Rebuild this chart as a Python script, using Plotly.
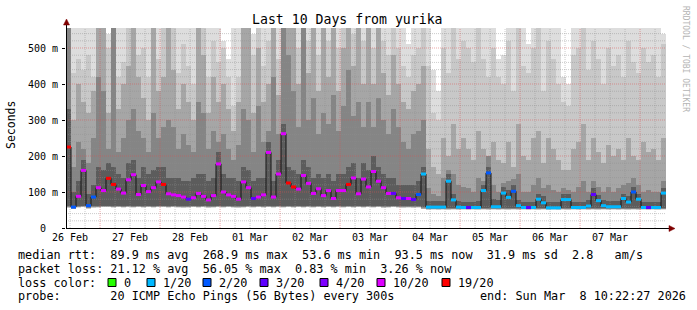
import plotly.graph_objects as go
import pandas as pd

# ---------------- data ----------------
start_time = "2026-02-26 10:22:27"
end_time = "2026-03-08 10:22:27"
step_hours = 2

day_labels = ["26 Feb", "27 Feb", "28 Feb", "01 Mar", "02 Mar", "03 Mar",
              "04 Mar", "05 Mar", "06 Mar", "07 Mar"]
day_dates = ["2026-02-26", "2026-02-27", "2026-02-28", "2026-03-01", "2026-03-02",
             "2026-03-03", "2026-03-04", "2026-03-05", "2026-03-06", "2026-03-07"]

y_tick_vals = [0, 100, 200, 300, 400, 500]
y_tick_text = ["0\u00a0\u00a0", "100 m", "200 m", "300 m", "400 m", "500 m"]

# median rtt per 2h column (ms)
median_ms = [
    225, 58, 88, 160, 62, 86, 112, 104, 138, 121,
    108, 97, 134, 148, 93, 118, 101, 112, 128, 121,
    95, 92, 90, 86, 80, 84, 96, 88, 78, 90,
    178, 100, 92, 88, 80, 128, 112, 82, 86, 92,
    210, 86, 150, 262, 125, 114, 108, 146, 124, 96,
    109, 90, 104, 82, 104, 104, 121, 139, 95, 136,
    114, 157, 130, 112, 96, 96, 84, 82, 82, 79,
    93, 150, 58, 58, 58, 58, 130, 78, 58, 57,
    57, 57, 57, 104, 153, 59, 59, 97, 85, 102,
    62, 57, 57, 57, 80, 70, 56, 56, 56, 79,
    79, 57, 57, 57, 61, 93, 76, 62, 59, 59,
    59, 82, 72, 100, 80, 57, 57, 57, 57, 97,
]
# loss class per column: 0:0, 1:1/20, 2:2/20, 3:3/20, 4:4/20, 5:10/20, 6:19/20
loss_class = [
    6, 2, 5, 5, 2, 2, 5, 5, 6, 6,
    5, 5, 5, 5, 5, 5, 5, 5, 5, 6,
    5, 5, 5, 5, 3, 5, 5, 5, 5, 5,
    5, 5, 5, 5, 5, 5, 5, 3, 5, 5,
    5, 5, 5, 5, 6, 6, 5, 5, 5, 5,
    5, 5, 5, 5, 5, 5, 6, 5, 5, 5,
    5, 5, 5, 5, 5, 3, 5, 3, 5, 3,
    2, 1, 1, 1, 1, 1, 1, 1, 1, 1,
    3, 1, 1, 1, 2, 1, 1, 1, 1, 2,
    1, 1, 3, 1, 1, 1, 1, 1, 1, 1,
    1, 1, 1, 1, 1, 3, 1, 1, 1, 1,
    1, 1, 1, 2, 1, 1, 3, 1, 1, 1,
]
# lowest ping per column (ms)
smoke_min = [
    55, 52, 56, 57, 53, 55, 56, 57, 57, 56,
    57, 56, 57, 56, 57, 56, 57, 56, 57, 57,
    56, 57, 56, 55, 56, 57, 56, 57, 55, 56,
    57, 56, 57, 56, 55, 56, 57, 56, 57, 56,
    57, 56, 57, 56, 57, 56, 57, 56, 57, 56,
    57, 56, 57, 56, 57, 56, 57, 56, 57, 56,
    57, 56, 57, 55, 56, 57, 56, 55, 56, 55,
    56, 52, 50, 51, 50, 51, 50, 51, 50, 51,
    50, 51, 50, 51, 50, 51, 50, 51, 50, 51,
    50, 51, 50, 51, 50, 51, 50, 51, 50, 51,
    50, 51, 50, 51, 50, 51, 50, 51, 50, 51,
    50, 51, 50, 51, 50, 51, 50, 51, 50, 51,
]
# highest ping (outer smoke) per column (ms)
smoke_max = [
    560, 560, 560, 560, 560, 560, 560, 560, 540, 560,
    560, 560, 530, 560, 560, 560, 560, 560, 560, 560,
    560, 560, 560, 560, 560, 560, 500, 560, 560, 560,
    560, 520, 470, 560, 560, 560, 560, 540, 560, 560,
    560, 560, 560, 560, 560, 560, 560, 560, 560, 560,
    560, 560, 560, 560, 560, 560, 560, 560, 560, 560,
    560, 560, 560, 560, 560, 560, 560, 560, 510, 560,
    560, 560, 560, 440, 380, 560, 560, 560, 560, 560,
    560, 560, 560, 560, 560, 560, 470, 480, 560, 560,
    560, 560, 510, 560, 560, 560, 560, 560, 560, 420,
    400, 560, 560, 560, 560, 560, 560, 560, 560, 560,
    560, 560, 560, 560, 560, 560, 560, 560, 560, 540,
]
smoke_q2 = [
    560, 430, 470, 440, 480, 420, 560, 560, 500, 560,
    420, 460, 560, 440, 480, 500, 420, 560, 470, 560,
    470, 560, 430, 510, 450, 400, 480, 560, 420, 520,
    460, 500, 420, 340, 420, 560, 490, 480, 560, 450,
    520, 560, 470, 560, 540, 560, 500, 560, 520, 560,
    480, 560, 520, 560, 500, 560, 560, 540, 560, 520,
    560, 500, 560, 520, 480, 560, 500, 450, 420, 480,
    500, 560, 450, 320, 300, 500, 430, 560, 470, 520,
    500, 460, 560, 470, 420, 500, 420, 400, 520, 380,
    560, 450, 430, 500, 560, 380, 520, 470, 400, 350,
    340, 480, 500, 560, 440, 520, 470, 400, 500, 450,
    480, 420, 520, 460, 430, 500, 460, 480, 420, 510,
]
smoke_q3 = [
    560, 300, 400, 350, 320, 380, 560, 560, 320, 560,
    330, 400, 450, 560, 420, 360, 300, 560, 380, 420,
    560, 440, 330, 400, 350, 300, 560, 480, 320, 420,
    350, 400, 330, 270, 350, 560, 560, 320, 500, 350,
    400, 560, 370, 560, 560, 560, 400, 560, 430, 560,
    380, 560, 420, 560, 380, 500, 560, 450, 560, 400,
    560, 400, 560, 430, 370, 480, 400, 350, 330, 380,
    400, 450, 220, 170, 150, 250, 200, 290, 220, 250,
    220, 190, 270, 220, 200, 240, 190, 180, 240, 170,
    290, 200, 190, 250, 270, 180, 250, 220, 190, 160,
    160, 220, 240, 290, 190, 250, 210, 180, 230, 200,
    220, 190, 250, 200, 190, 240, 210, 220, 190, 250,
]
smoke_q4 = [
    560, 170, 240, 220, 180, 250, 420, 380, 220, 560,
    210, 250, 300, 330, 270, 250, 210, 320, 250, 280,
    300, 280, 220, 260, 230, 210, 350, 320, 220, 270,
    240, 260, 220, 190, 230, 330, 300, 210, 340, 240,
    270, 420, 260, 560, 480, 380, 280, 560, 300, 360,
    260, 320, 290, 370, 270, 340, 440, 310, 350, 280,
    350, 280, 360, 300, 260, 330, 280, 240, 220, 260,
    270, 300, 110, 95, 90, 140, 160, 150, 120, 115,
    110, 100, 140, 130, 200, 120, 100, 125, 130, 135,
    150, 100, 100, 120, 140, 110, 120, 105, 100, 110,
    105, 100, 115, 130, 100, 130, 115, 100, 115, 100,
    110, 120, 125, 140, 120, 100, 105, 100, 100, 130,
]
smoke_core = [
    330, 100, 130, 190, 95, 120, 170, 160, 180, 170,
    150, 140, 180, 190, 140, 170, 150, 160, 170, 170,
    140, 140, 140, 130, 130, 140, 150, 150, 130, 140,
    210, 150, 140, 140, 130, 170, 160, 130, 140, 140,
    240, 130, 190, 290, 170, 160, 150, 190, 170, 140,
    150, 140, 150, 130, 150, 150, 170, 180, 140, 180,
    160, 200, 170, 150, 140, 140, 120, 120, 120, 120,
    130, 170, 75, 75, 75, 75, 150, 95, 75, 72,
    72, 72, 75, 120, 170, 80, 78, 115, 105, 120,
    78, 72, 72, 72, 95, 88, 72, 72, 72, 95,
    95, 72, 72, 72, 78, 110, 92, 78, 74, 74,
    74, 95, 88, 115, 95, 72, 72, 72, 72, 110,
]

loss_labels = ["0", "1/20", "2/20", "3/20", "4/20", "10/20", "19/20"]
loss_colors = ["#26ff00", "#00b8ff", "#0059ff", "#5e00ff", "#7e00ff", "#dd00ff", "#ff0000"]

stat_lines = [
    "median rtt:  89.9 ms avg  268.9 ms max  53.6 ms min  93.5 ms now  31.9 ms sd  2.8   am/s",
    "packet loss: 21.12 % avg  56.05 % max  0.83 % min  3.26 % now",
]
probe_text = "probe:       20 ICMP Echo Pings (56 Bytes) every 300s"
end_text = "end: Sun Mar  8 10:22:27 2026"
title_text = "Last 10 Days from yurika"

# ---------------- geometry helpers (pixel -> paper) ----------------
W, H = 697, 310
PL, PR, PT, PB = 66, 666, 28, 228
YMAX = 555.6


def px(x):
    return (x - PL) / (PR - PL)


def py(y):
    return (PB - y) / (PB - PT)


def nb(s):
    return s.replace(" ", "\u00a0")


t0 = pd.Timestamp(start_time)
t1 = pd.Timestamp(end_time)
step = pd.Timedelta(hours=step_hours)
n = len(median_ms)
col_start = [t0 + i * step for i in range(n)]
col_mid = [t0 + (i + 0.5) * step for i in range(n)]
width_ms = step_hours * 3600 * 1000

fig = go.Figure()

# smoke layers (lightest outermost first)
layers = [
    (smoke_max, 0, "#dddddd"),
    (smoke_q2, 1, "#c8c8c8"),
    (smoke_q3, 2, "#a6a6a6"),
    (smoke_q4, 3, "#858585"),
    (smoke_core, 5, "#5c5c5c"),
]
for tops, off, col in layers:
    base = [m + off for m in smoke_min]
    fig.add_trace(go.Bar(
        x=col_mid, y=[max(t - b, 0) for t, b in zip(tops, base)], base=base,
        width=[width_ms] * n, marker=dict(color=col, line=dict(width=0)),
        hoverinfo="skip"))

# grid (drawn over smoke, like rrdtool)
def hline_trace(vals, color):
    xs, ys = [], []
    for v in vals:
        xs += [t0, t1, None]
        ys += [v, v, None]
    return go.Scatter(x=xs, y=ys, mode="lines", hoverinfo="skip",
                      line=dict(color=color, width=1, dash="1px,1px"))


def vline_trace(times, color):
    xs, ys = [], []
    for t in times:
        xs += [t, t, None]
        ys += [0, YMAX, None]
    return go.Scatter(x=xs, y=ys, mode="lines", hoverinfo="skip",
                      line=dict(color=color, width=1, dash="1px,1px"))


grid_minor = "rgba(143,143,143,0.46)"
grid_major = "rgba(222,80,80,0.5)"
minor_y = [v for v in range(20, 560, 20) if v % 100 != 0]
major_y = [v for v in range(100, 560, 100)]
six_h = pd.date_range(t0.ceil("6h"), t1, freq="6h")
minor_x = [t for t in six_h if t.hour != 0]
major_x = [t for t in six_h if t.hour == 0]
fig.add_trace(hline_trace(minor_y, grid_minor))
fig.add_trace(vline_trace(minor_x, grid_minor))
fig.add_trace(hline_trace(major_y, grid_major))
fig.add_trace(vline_trace(major_x, grid_major))

# median line (dark step line)
fig.add_trace(go.Scatter(
    x=col_start + [t1], y=median_ms + [median_ms[-1]], mode="lines",
    line=dict(color="#141414", width=1, shape="hv"), hoverinfo="skip"))

# loss-coloured median segments
for ci, c in enumerate(loss_colors):
    xs, ys = [], []
    for i in range(n):
        if loss_class[i] == ci:
            xs += [col_start[i], col_start[i] + step, None]
            ys += [median_ms[i], median_ms[i], None]
    if xs:
        fig.add_trace(go.Scatter(x=xs, y=ys, mode="lines", hoverinfo="skip",
                                 line=dict(color=c, width=3)))

mono = "DejaVu Sans Mono"
annotations = []
shapes = []

# title
annotations.append(dict(text=title_text, x=px(347.5), y=py(19), xref="paper", yref="paper",
                        showarrow=False, xanchor="center", yanchor="middle",
                        font=dict(family=mono, size=13.2, color="black")))
# y title
annotations.append(dict(text="Seconds", x=px(11), y=py(125), xref="paper", yref="paper",
                        showarrow=False, xanchor="center", yanchor="middle", textangle=-90,
                        font=dict(family=mono, size=11.5, color="black")))
# rrdtool watermark
annotations.append(dict(text="RRDTOOL / TOBI OETIKER", x=px(686), y=py(59), xref="paper",
                        yref="paper", showarrow=False, xanchor="center", yanchor="middle",
                        textangle=90, font=dict(family=mono, size=8, color="#b4b4b4")))

# statistics lines
line_y = [254.5, 268.5, 282.5, 296]
for i, s in enumerate(stat_lines):
    annotations.append(dict(text=nb(s), x=px(16), y=py(line_y[i]), xref="paper", yref="paper",
                            showarrow=False, xanchor="left", yanchor="middle",
                            font=dict(family=mono, size=11.8, color="black")))
annotations.append(dict(text=nb("loss color:"), x=px(16), y=py(line_y[2]), xref="paper",
                        yref="paper", showarrow=False, xanchor="left", yanchor="middle",
                        font=dict(family=mono, size=11.8, color="black")))
box_left = [108, 147, 203, 260, 320, 377, 442]
for i, (lab, c) in enumerate(zip(loss_labels, loss_colors)):
    bx = box_left[i]
    shapes.append(dict(type="rect", xref="paper", yref="paper",
                       x0=px(bx), x1=px(bx + 8), y0=py(line_y[2] + 4), y1=py(line_y[2] - 4),
                       fillcolor=c, line=dict(color="black", width=1)))
    annotations.append(dict(text=lab, x=px(bx + 13.5), y=py(line_y[2]), xref="paper",
                            yref="paper", showarrow=False, xanchor="left", yanchor="middle",
                            font=dict(family=mono, size=11.8, color="black")))
annotations.append(dict(text=nb(probe_text), x=px(16), y=py(line_y[3]), xref="paper",
                        yref="paper", showarrow=False, xanchor="left", yanchor="middle",
                        font=dict(family=mono, size=11.8, color="black")))
annotations.append(dict(text=nb(end_text), x=px(478), y=py(line_y[3]), xref="paper",
                        yref="paper", showarrow=False, xanchor="left", yanchor="middle",
                        font=dict(family=mono, size=11.8, color="black")))

# axes lines and arrows
shapes.append(dict(type="line", xref="paper", yref="paper", x0=px(66.5), x1=px(66.5),
                   y0=py(228), y1=py(22), line=dict(color="black", width=1)))
shapes.append(dict(type="line", xref="paper", yref="paper", x0=px(66), x1=px(671),
                   y0=py(228.5), y1=py(228.5), line=dict(color="black", width=1)))
shapes.append(dict(type="path", xref="paper", yref="paper",
                   path=f"M {px(66.5)},{py(19)} L {px(63.5)},{py(25)} L {px(69.5)},{py(25)} Z",
                   fillcolor="#7f0000", line=dict(color="#7f0000", width=0.5)))
shapes.append(dict(type="path", xref="paper", yref="paper",
                   path=f"M {px(675)},{py(228.5)} L {px(669)},{py(225.5)} L {px(669)},{py(231.5)} Z",
                   fillcolor="#7f0000", line=dict(color="#7f0000", width=0.5)))

tick_times = [pd.Timestamp(d) + pd.Timedelta(hours=12) for d in day_dates]

fig.update_layout(
    width=W, height=H,
    margin=dict(l=PL, r=W - PR, t=PT, b=H - PB),
    paper_bgcolor="white", plot_bgcolor="white",
    showlegend=False, barmode="overlay", bargap=0,
    annotations=annotations, shapes=shapes,
    xaxis=dict(type="date", range=[t0, t1], showgrid=False, zeroline=False,
               showline=False, tickvals=tick_times, ticktext=day_labels, ticks="",
               tickfont=dict(family=mono, size=10, color="black"), ticklabelstandoff=2),
    yaxis=dict(range=[0, YMAX], showgrid=False, zeroline=False, showline=False,
               tickvals=y_tick_vals, ticktext=y_tick_text, ticks="outside", ticklen=3,
               tickcolor="black",
               tickfont=dict(family=mono, size=10, color="black"), ticklabelstandoff=2),
)

fig.write_html("out.html")
